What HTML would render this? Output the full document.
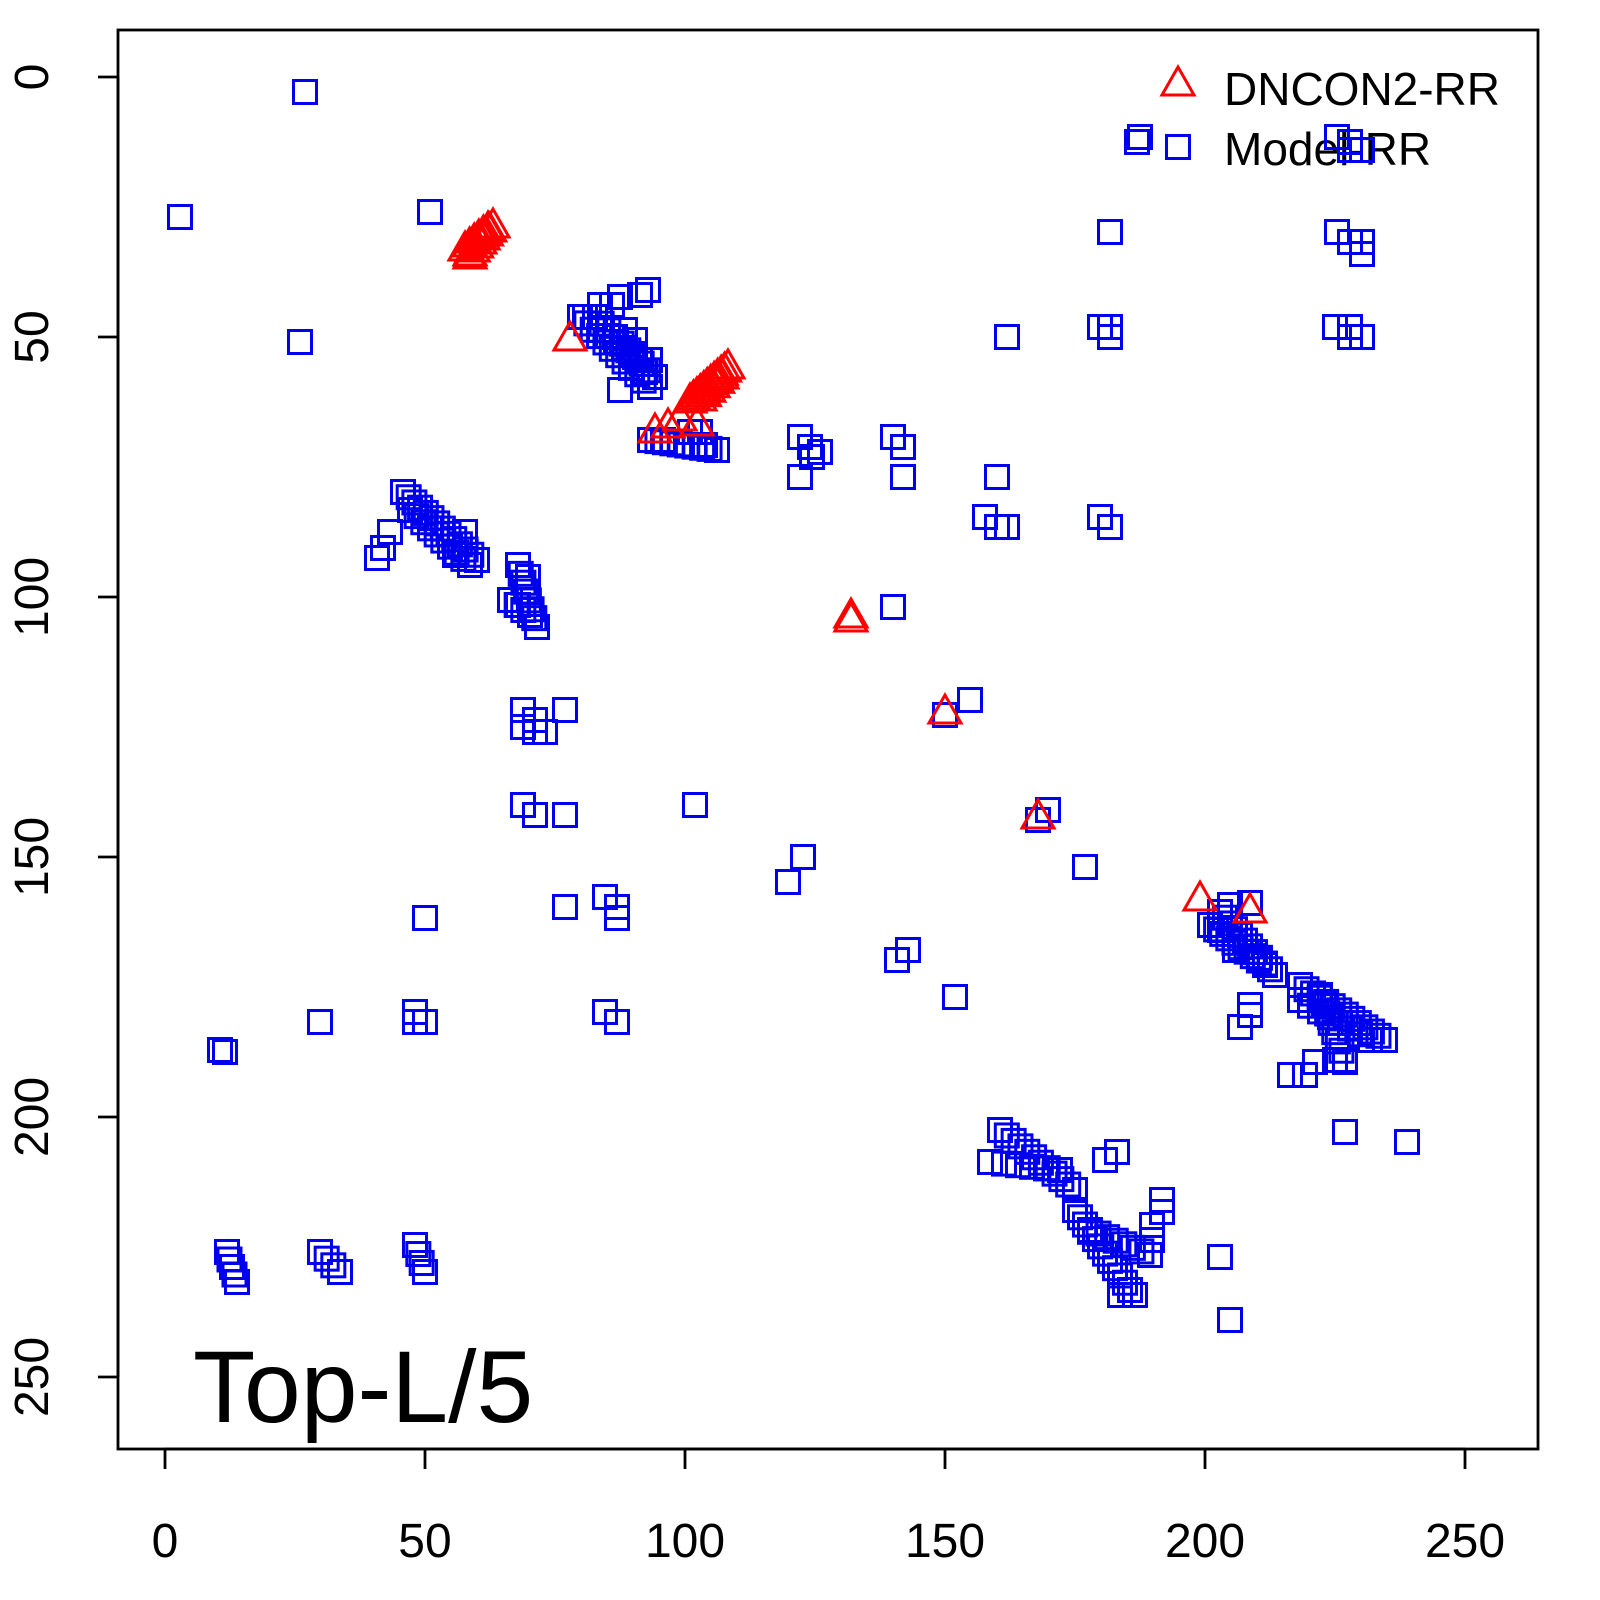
<!DOCTYPE html><html><head><style>body{margin:0;background:#fff}svg{display:block}text{font-family:"Liberation Sans",sans-serif}</style></head><body>
<svg id="s" width="1600" height="1600" xmlns="http://www.w3.org/2000/svg">
<rect x="118" y="30" width="1420" height="1419" fill="none" stroke="#000" stroke-width="2.8"/>
<g stroke="#000" stroke-width="2.8">
<line x1="165" y1="1449" x2="1465" y2="1449"/>
<line x1="165" y1="1449" x2="165" y2="1469"/><line x1="425" y1="1449" x2="425" y2="1469"/><line x1="685" y1="1449" x2="685" y2="1469"/><line x1="945" y1="1449" x2="945" y2="1469"/><line x1="1205" y1="1449" x2="1205" y2="1469"/><line x1="1465" y1="1449" x2="1465" y2="1469"/>
<line x1="118" y1="77" x2="118" y2="1377"/>
<line x1="98" y1="77" x2="118" y2="77"/><line x1="98" y1="337" x2="118" y2="337"/><line x1="98" y1="597" x2="118" y2="597"/><line x1="98" y1="857" x2="118" y2="857"/><line x1="98" y1="1117" x2="118" y2="1117"/><line x1="98" y1="1377" x2="118" y2="1377"/>
</g>
<g font-size="48" text-anchor="middle">
<text x="165" y="1557">0</text><text x="425" y="1557">50</text><text x="685" y="1557">100</text><text x="945" y="1557">150</text><text x="1205" y="1557">200</text><text x="1465" y="1557">250</text>
<text transform="translate(48,77) rotate(-90)">0</text><text transform="translate(48,337) rotate(-90)">50</text><text transform="translate(48,597) rotate(-90)">100</text><text transform="translate(48,857) rotate(-90)">150</text><text transform="translate(48,1117) rotate(-90)">200</text><text transform="translate(48,1377) rotate(-90)">250</text>
</g>
<text x="193" y="1422" font-size="102">Top-L/5</text>
<text x="1224" y="105" font-size="46">DNCON2-RR</text>
<text x="1224" y="165" font-size="46">Model-RR</text>
<g id="sq" fill="none" stroke="#0000ee" stroke-width="3"></g>
<g id="tr" fill="none" stroke="#ff0000" stroke-width="3"></g>
</svg>
<script>
var S=[],T=[];
function L(a,x1,y1,x2,y2,n){for(var i=0;i<n;i++){var t=n>1?i/(n-1):0;a.push([x1+(x2-x1)*t,y1+(y2-y1)*t]);}}
function P(a,l){for(var i=0;i<l.length;i+=2)a.push([l[i],l[i+1]]);}
P(S,[305,92,180,217,430,212,300,342,1140,137,1137,142,1178,147,1110,232,1007,337,1110,327,1110,337,1100,327,1337,137,1350,150,1362,150,1350,142,1337,232,1350,242,1362,242,1362,254,1335,327,1350,327,1350,337,1362,337]);
L(S,580,317,650,387,12);L(S,595,317,655,377,10);L(S,600,330,640,360,6);
P(S,[620,297,648,290,640,295,620,390,585,317,600,305,612,305,625,330,635,340,645,372,650,360]);
L(S,650,440,717,450,10);P(S,[663,440,690,432,700,432,705,445]);
P(S,[800,437,810,447,820,452,800,477,812,457,893,437,903,447,903,477,997,477,985,517,997,527,1007,527,1100,517,1110,527,893,607]);
L(S,403,492,477,560,14);L(S,410,510,470,565,10);P(S,[390,532,383,548,377,558,465,532,455,555]);
L(S,518,565,537,627,8);L(S,510,600,530,615,4);P(S,[528,577,518,605]);
P(S,[523,710,535,720,545,732,535,732,523,727,565,710,523,805,535,815,565,815,695,805,970,700,945,715,1048,810,1038,820,1085,867,803,857,788,882,565,907,605,897,617,907,617,918,425,918,897,960,908,950,955,997,320,1022,415,1012,425,1022,415,1022,605,1012,617,1022,225,1052,220,1050]);
L(S,1220,912,1275,975,12);L(S,1210,925,1265,965,10);P(S,[1230,905,1250,903,1220,930,1235,950]);
L(S,1300,985,1385,1040,14);L(S,1320,995,1345,1060,8);L(S,1300,1000,1370,1040,8);
P(S,[1250,1005,1250,1015,1240,1027,1290,1075,1305,1075,1315,1062,1345,1062,1335,1060,1345,1132,1407,1142]);
L(S,1000,1130,1075,1190,12);L(S,990,1162,1060,1170,6);L(S,1075,1210,1130,1290,12);L(S,1090,1230,1150,1255,8);
P(S,[1105,1160,1117,1152,1162,1200,1162,1212,1152,1225,1152,1240,1220,1257,1230,1320,1120,1295,1135,1295]);
L(S,227,1252,237,1282,5);L(S,320,1252,340,1272,4);L(S,415,1245,425,1272,4);
L(T,470,255,493,227,8);L(T,465,250,488,230,6);P(T,[470,258,570,340,655,432,668,427,680,420,697,425]);
L(T,690,402,728,368,12);L(T,700,400,722,378,6);P(T,[851,617,851,621,945,713,1038,818,1200,900,1250,912,1178,85]);
var ns="http://www.w3.org/2000/svg",g=document.getElementById("sq"),h=document.getElementById("tr");
S.forEach(function(p){var r=document.createElementNS(ns,"rect");r.setAttribute("x",p[0]-11.5);r.setAttribute("y",p[1]-11.5);r.setAttribute("width",23);r.setAttribute("height",23);g.appendChild(r);});
T.forEach(function(p){var r=document.createElementNS(ns,"polygon");var x=p[0],y=p[1];r.setAttribute("points",(x)+","+(y-18)+" "+(x-16)+","+(y+10)+" "+(x+16)+","+(y+10));h.appendChild(r);});
</script>
</body></html>
